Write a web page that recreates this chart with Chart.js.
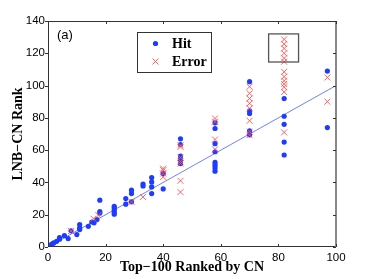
<!DOCTYPE html>
<html><head><meta charset="utf-8">
<script src="https://cdn.jsdelivr.net/npm/chart.js@4.4.1/dist/chart.umd.min.js"></script>
<style>html,body{margin:0;padding:0;background:#fff}#wrap{width:371px;height:279px}</style>
</head><body><div id="wrap"><canvas id="c" width="371" height="279"></canvas></div>
<script>
const xTicks = [0, 20, 40, 60, 80, 100];
const yTicks = [0, 20, 40, 60, 80, 100, 120, 140];

const hitX = [0.5, 1, 1.5, 2, 3, 4, 4, 5.7, 7, 8, 10, 11, 11, 11, 14, 15.2, 16, 17, 18, 18, 18,
  23, 23, 23, 23, 23, 27, 27, 29, 29, 29, 33, 33, 36, 36, 36, 36, 40, 40,
  46, 46, 46, 46, 46, 58, 58, 58, 58, 58, 58, 58, 58,
  70, 70, 70, 70, 70, 82, 82, 82, 82, 82, 97, 97];
const hitY = [0.5, 1.3, 2, 2.5, 3.5, 4.8, 5.8, 7, 5.2, 10, 7.7, 10.8, 11.8, 13.9, 12.8, 15.5, 15, 17, 29, 22, 21,
  25.2, 24.2, 22.8, 21.3, 20.3, 30, 26.5, 35.2, 33.1, 28, 39, 37.8, 43, 40.3, 37.2, 33.1, 45.5, 36,
  67, 63.5, 56.3, 54, 51.7, 76.9, 73.4, 64, 59, 52.4, 50.7, 49, 47,
  102.4, 84.4, 82.7, 72, 69.5, 92, 81, 76, 65, 57, 109, 74];

const errX = [8, 15.8, 17.5, 29, 33, 40, 40, 40, 40,
  46, 46, 46, 46, 46, 46, 46, 58, 58, 58, 58,
  70, 70, 70, 70, 70, 70, 70, 70,
  82, 82, 82, 82, 82, 82, 82, 82, 82, 82, 82, 82, 82, 97, 97];
const errY = [9.9, 17.5, 19.7, 27.9, 31, 48.6, 47.6, 45.5, 43.4,
  63, 62, 55.4, 53, 51.7, 41, 34, 79.6, 77.6, 66.6, 60.5,
  99.3, 95.2, 92, 89, 85.9, 78.2, 71.4, 69.3,
  128.6, 125.7, 123, 120, 116.9, 114.8, 108.5, 105.5, 103, 101, 99, 96, 71, 105, 90];

const fitX = [0, 100];
const fitY = [0, 100];

const seriesLabels = ['Hit', 'Error'];
const xTitle = 'Top\u2212100 Ranked by CN';
const yTitle = 'LNB\u2212CN Rank';
const panelLabel = '(a)';
const boxX = [76.6, 87.0];
const boxY = [114.6, 132];

const BLUE = 'rgb(30,60,255)';
const RED = 'rgba(255,80,80,0.9)';

function pts(xs, ys) { return xs.map((x, i) => ({x: x, y: ys[i]})); }

const decor = {
  id: 'decor',
  afterDatasetsDraw(chart) {
    const ctx = chart.ctx, a = chart.chartArea, xs = chart.scales.x, ys = chart.scales.y;
    ctx.save();
    const rx0 = xs.getPixelForValue(boxX[0]), rx1 = xs.getPixelForValue(boxX[1]);
    const ry0 = ys.getPixelForValue(boxY[1]), ry1 = ys.getPixelForValue(boxY[0]);
    ctx.strokeStyle = '#555'; ctx.lineWidth = 1.3;
    ctx.strokeRect(rx0, ry0, rx1 - rx0, ry1 - ry0);
    ctx.strokeStyle = '#333'; ctx.lineWidth = 1;
    ctx.strokeRect(a.left + 0.5, a.top + 0.5, a.right - a.left - 1, a.bottom - a.top - 1);
    ctx.strokeStyle = '#888'; ctx.lineWidth = 2;
    ctx.beginPath(); ctx.moveTo(a.right, a.top); ctx.lineTo(a.right, a.bottom); ctx.stroke();
    ctx.strokeStyle = '#333'; ctx.lineWidth = 1;
    ctx.beginPath();
    xTicks.forEach(v => {
      const p = Math.round(xs.getPixelForValue(v)) + 0.5;
      ctx.moveTo(p, a.bottom); ctx.lineTo(p, a.bottom - 3);
      ctx.moveTo(p, a.top); ctx.lineTo(p, a.top + 3);
    });
    yTicks.forEach(v => {
      const p = Math.round(ys.getPixelForValue(v)) + 0.5;
      ctx.moveTo(a.left, p); ctx.lineTo(a.left - 3, p);
      ctx.moveTo(a.right, p); ctx.lineTo(a.right - 3, p);
    });
    ctx.stroke();
    ctx.fillStyle = '#000';
    ctx.font = '13px "Liberation Sans", Arial, sans-serif';
    ctx.textBaseline = 'middle'; ctx.textAlign = 'left';
    ctx.fillText(panelLabel, 57, 35);
    const lx = 137, ly = 32, lw = 74, lh = 40;
    ctx.fillStyle = '#fff'; ctx.fillRect(lx, ly, lw, lh);
    ctx.strokeStyle = '#333'; ctx.lineWidth = 1;
    ctx.strokeRect(lx + 0.5, ly + 0.5, lw, lh);
    ctx.fillStyle = BLUE;
    ctx.beginPath(); ctx.arc(155.5, 43.5, 2.6, 0, Math.PI * 2); ctx.fill();
    ctx.strokeStyle = RED; ctx.lineWidth = 1;
    ctx.beginPath();
    ctx.moveTo(152.5, 58.5); ctx.lineTo(158.5, 64.5); ctx.moveTo(158.5, 58.5); ctx.lineTo(152.5, 64.5);
    ctx.stroke();
    ctx.fillStyle = '#000';
    ctx.font = 'bold 14px "Liberation Serif", "Times New Roman", serif';
    ctx.fillText(seriesLabels[0], 172, 44);
    ctx.fillText(seriesLabels[1], 172, 62);
    ctx.restore();
  }
};

new Chart(document.getElementById('c'), {
  type: 'scatter',
  data: {
    datasets: [
      {label: 'fit', data: pts(fitX, fitY), showLine: true, pointRadius: 0, borderColor: 'rgb(110,130,255)', borderWidth: 1, order: 3},
      {label: seriesLabels[0], data: pts(hitX, hitY), pointStyle: 'circle', pointRadius: 2.6, backgroundColor: BLUE, borderWidth: 0, order: 2},
      {label: seriesLabels[1], data: pts(errX, errY), pointStyle: 'crossRot', pointRadius: 4.2, borderColor: RED, backgroundColor: RED, borderWidth: 1, order: 1}
    ]
  },
  options: {
    responsive: false, animation: false, devicePixelRatio: 1,
    layout: {padding: {top: 21, right: 35, left: 0, bottom: 0}},
    plugins: {legend: {display: false}, tooltip: {enabled: false}},
    scales: {
      x: {
        type: 'linear', min: 0, max: 100,
        afterBuildTicks: s => { s.ticks = xTicks.map(v => ({value: v})); },
        afterFit: s => { s.height = 32; },
        grid: {display: false, drawTicks: false}, border: {display: false},
        ticks: {padding: 4, color: '#000', font: {family: '"Liberation Sans", Arial, sans-serif', size: 11.5}, maxRotation: 0},
        title: {display: true, text: xTitle, color: '#000', padding: {top: 0, bottom: 3}, font: {family: '"Liberation Serif", "Times New Roman", serif', size: 14, weight: 'bold'}}
      },
      y: {
        type: 'linear', min: 0, max: 140,
        afterBuildTicks: s => { s.ticks = yTicks.map(v => ({value: v})); },
        afterFit: s => { s.width = 48; },
        grid: {display: false, drawTicks: false}, border: {display: false},
        ticks: {padding: 3, color: '#000', font: {family: '"Liberation Sans", Arial, sans-serif', size: 11.5}},
        title: {display: true, text: yTitle, color: '#000', padding: {top: 10, bottom: 0}, font: {family: '"Liberation Serif", "Times New Roman", serif', size: 14, weight: 'bold'}}
      }
    }
  },
  plugins: [decor]
});
</script></body></html>
